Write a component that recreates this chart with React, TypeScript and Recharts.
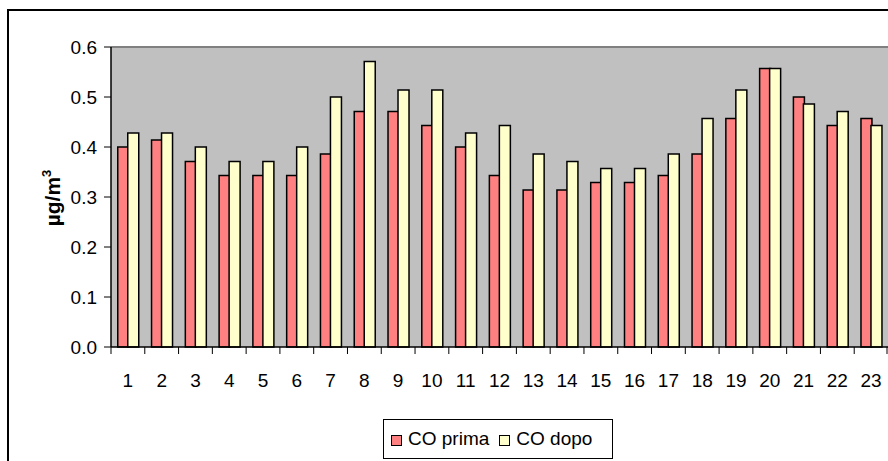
import React from 'react';
import { BarChart, Bar, XAxis, YAxis, CartesianGrid, Legend, ReferenceLine } from 'recharts';

const categories = ['1','2','3','4','5','6','7','8','9','10','11','12','13','14','15','16','17','18','19','20','21','22','23'];
const coPrima = [0.4, 0.414, 0.371, 0.343, 0.343, 0.343, 0.386, 0.471, 0.471, 0.443, 0.4, 0.343, 0.314, 0.314, 0.329, 0.329, 0.343, 0.386, 0.457, 0.557, 0.5, 0.443, 0.457];
const coDopo = [0.428, 0.428, 0.4, 0.371, 0.371, 0.4, 0.5, 0.571, 0.514, 0.514, 0.428, 0.443, 0.386, 0.371, 0.357, 0.357, 0.386, 0.457, 0.514, 0.557, 0.486, 0.471, 0.443];
const yTicks = [0, 0.1, 0.2, 0.3, 0.4, 0.5, 0.6];
const seriesNames = ['CO prima', 'CO dopo'];
const seriesColors = ['#FF8080', '#FFFFCC'];

const data = categories.map((c, i) => ({ name: c, prima: coPrima[i], dopo: coDopo[i] }));

const FONT = '"Liberation Sans", Arial, sans-serif';

const XTick = (props: any) => {
  const { x, y, payload, index, width } = props;
  const band = (width || 777) / categories.length;
  const left = x - band / 2;
  const right = x + band / 2;
  return (
    <g>
      <line x1={left} y1={y} x2={left} y2={y + 7} stroke="#000" strokeWidth={1} />
      {index === categories.length - 1 && (
        <line x1={right - 1} y1={y} x2={right - 1} y2={y + 7} stroke="#000" strokeWidth={1} />
      )}
      <text x={x} y={y + 40} textAnchor="middle" fontSize={19} fontFamily={FONT} fill="#000">
        {payload.value}
      </text>
    </g>
  );
};

const YLabel = () => (
  <text
    x={60}
    y={198}
    transform="rotate(-90, 60, 198)"
    textAnchor="middle"
    fontSize={21}
    fontWeight="bold"
    fontFamily={FONT}
    fill="#000"
  >
    µg/m<tspan dy={-9} fontSize={13}>3</tspan>
  </text>
);

const LegendContent = (props: any) => {
  const raw = props.payload || [];
  const items = seriesNames
    .map((n) => raw.find((it: any) => it.value === n))
    .filter(Boolean);
  return (
    <div
      style={{
        width: 228,
        height: 38,
        border: '1px solid #000',
        background: '#fff',
        display: 'flex',
        alignItems: 'center',
        fontFamily: FONT,
        fontSize: 19,
        color: '#000',
        boxSizing: 'content-box',
      }}
    >
      {items.map((it: any, i: number) => (
        <div key={i} style={{ display: 'flex', alignItems: 'center', marginLeft: i === 0 ? 7 : 10 }}>
          <div
            style={{
              width: 9,
              height: 9,
              background: it.color,
              border: '1px solid #000',
              marginRight: 6,
              marginTop: 3,
            }}
          />
          <span>{it.value}</span>
        </div>
      ))}
    </div>
  );
};

export default function App() {
  return (
    <div style={{ position: 'absolute', left: 0, top: 0, width: 888, height: 461, background: '#fff', overflow: 'hidden' }}>
      <div
        style={{
          position: 'absolute',
          left: 7,
          top: 9,
          width: 1000,
          height: 600,
          border: '2px solid #000',
        }}
      />
      <div style={{ position: 'absolute', left: 0, top: 0 }}>
        <BarChart
          width={888}
          height={461}
          data={data}
          margin={{ top: 47, right: 0, bottom: 34, left: 0 }}
          barCategoryGap="20%"
          barGap={-1}
          style={{ fontFamily: FONT }}
        >
          <CartesianGrid fill="#C0C0C0" stroke="#C0C0C0" vertical={false} horizontal={false} />
          <ReferenceLine y={0.6} stroke="#808080" strokeWidth={2} />
          <XAxis
            dataKey="name"
            height={40}
            axisLine={{ stroke: '#000', strokeWidth: 1.5 }}
            tickLine={false}
            tickSize={0}
            tickMargin={0}
            interval={0}
            tick={<XTick />}
          />
          <YAxis
            width={111}
            domain={[0, 0.6]}
            ticks={yTicks}
            interval={0}
            tickFormatter={(v: number) => v.toFixed(1)}
            axisLine={{ stroke: '#000', strokeWidth: 1.5 }}
            tickLine={{ stroke: '#000', strokeWidth: 1 }}
            tickSize={7}
            tickMargin={7}
            tick={{ fill: '#000', fontSize: 19, fontFamily: FONT }}
            label={<YLabel />}
          />
          <Legend
            layout="horizontal"
            verticalAlign="bottom"
            align="center"
            content={<LegendContent />}
            wrapperStyle={{ position: 'absolute', left: 383, top: 419, width: 230, height: 40, right: 'auto', bottom: 'auto' }}
          />
          <Bar dataKey="prima" name={seriesNames[0]} fill={seriesColors[0]} stroke="#000" strokeWidth={1.5} isAnimationActive={false} />
          <Bar dataKey="dopo" name={seriesNames[1]} fill={seriesColors[1]} stroke="#000" strokeWidth={1.5} isAnimationActive={false} />
        </BarChart>
      </div>
    </div>
  );
}
